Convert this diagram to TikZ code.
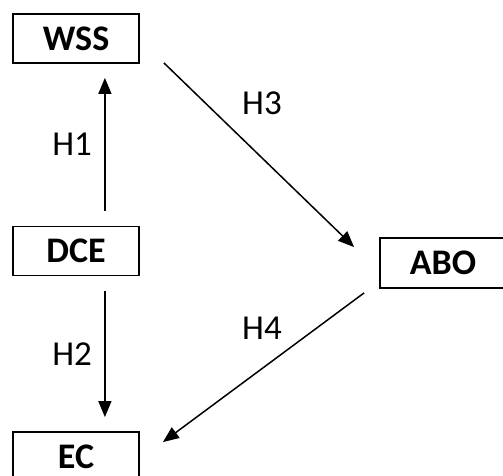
\documentclass[tikz,border=0pt]{standalone}
\usepackage{fontspec}
\setmainfont{Carlito}
\usetikzlibrary{arrows.meta, calc}

\begin{document}
\begin{tikzpicture}[
  x=1pt, y=1pt,
  cbox/.style={draw, line width=1.8pt, minimum width=126pt, minimum height=49pt, inner sep=0pt, font=\fontsize{36}{38}\selectfont\bfseries},
  hlabel/.style={font=\fontsize{35}{37}\selectfont},
  link/.style={line width=1.5pt, -{Triangle[length=16pt,width=13pt]}}
]
  \useasboundingbox (0,0) rectangle (503,476);
  % constructs
  \node[cbox] (wss) at (76,437.5) {WSS};
  \node[cbox] (dce) at (76,225) {DCE};
  \node[cbox] (ec) at (76,19.5) {EC};
  \node[cbox, minimum height=50pt] (abo) at (443,213) {ABO};
  % hypotheses
  \draw[link] ([xshift=-35pt,yshift=15pt]dce.north east) -- ([xshift=-35pt,yshift=-14pt]wss.south east)
    node[hlabel, midway, left=9pt] (h1) {H1};
  \draw[link] ([xshift=-35pt,yshift=-15pt]dce.south east) -- ([xshift=-35pt,yshift=14pt]ec.north east)
    node[hlabel, midway, left=9pt] (h2) {H2};
  \draw[link] ([xshift=24pt,yshift=1pt]wss.south east) -- ([xshift=-25pt,yshift=-10pt]abo.north west);
  \draw[link] ([xshift=-15pt,yshift=-4pt]abo.south west) -- ([xshift=23pt,yshift=-11pt]ec.north east);
  \node[hlabel] (h3) at (262,373) {H3};
  \node[hlabel] (h4) at (262,148) {H4};
\end{tikzpicture}
\end{document}
